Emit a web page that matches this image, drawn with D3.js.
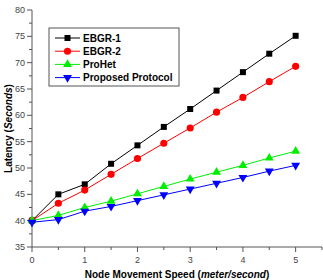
<!DOCTYPE html>
<html>
<head>
<meta charset="utf-8">
<script src="https://cdn.jsdelivr.net/npm/d3@7"></script>
<style>
  body { margin: 0; background: #fff; }
  text { font-family: "Liberation Sans", Arial, sans-serif; }
</style>
</head>
<body>
<div id="chart"></div>
<script>
const speeds = [0, 0.5, 1, 1.5, 2, 2.5, 3, 3.5, 4, 4.5, 5];
const ebgr1 = [40, 45, 46.9, 50.8, 54.3, 57.8, 61.2, 64.7, 68.2, 71.7, 75.1];
const ebgr2 = [40, 43.3, 45.8, 48.8, 51.8, 54.7, 57.6, 60.6, 63.4, 66.4, 69.3];
const prohet = [40, 41.0, 42.5, 43.7, 45.1, 46.5, 47.9, 49.2, 50.5, 51.9, 53.2];
const proposed = [39.7, 40.2, 41.8, 42.7, 43.8, 44.9, 46.0, 47.1, 48.2, 49.4, 50.5];
const seriesNames = ['EBGR-1', 'EBGR-2', 'ProHet', 'Proposed Protocol'];
const xTicks = [0, 1, 2, 3, 4, 5];
const yTicks = [35, 40, 45, 50, 55, 60, 65, 70, 75, 80];

const series = [
  { name: seriesNames[0], values: ebgr1, color: '#000000', shape: 'square' },
  { name: seriesNames[1], values: ebgr2, color: '#ff0000', shape: 'circle' },
  { name: seriesNames[2], values: prohet, color: '#00ee00', shape: 'up' },
  { name: seriesNames[3], values: proposed, color: '#0000ff', shape: 'down' }
];

const W = 323, H = 280;
const margin = { top: 10, right: 1, bottom: 33, left: 32 };
const width = W - margin.left - margin.right;
const height = H - margin.top - margin.bottom;

const svg = d3.select('#chart').append('svg')
  .attr('width', W).attr('height', H);
const g = svg.append('g')
  .attr('transform', 'translate(' + margin.left + ',' + margin.top + ')');

const x = d3.scaleLinear().domain([0, 5.5]).range([0, width]);
const y = d3.scaleLinear().domain([35, 80]).range([height, 0]);

const axisColor = '#555';

// x axis
const gx = g.append('g').attr('transform', 'translate(0,' + height + ')');
gx.append('line').attr('x1', 0).attr('x2', width)
  .attr('stroke', axisColor).attr('stroke-width', 1);
gx.selectAll('.minor').data(d3.range(0, 5.51, 0.5)).enter().append('line')
  .attr('x1', d => x(d)).attr('x2', d => x(d))
  .attr('y1', 0).attr('y2', d => Number.isInteger(d) ? 5 : 3)
  .attr('stroke', axisColor);
gx.selectAll('.lbl').data(xTicks).enter().append('text')
  .attr('x', d => x(d)).attr('y', 15.5)
  .attr('text-anchor', 'middle').attr('font-size', 9).attr('fill', '#444')
  .text(d => d);

// y axis
const gy = g.append('g');
gy.append('line').attr('y1', 0).attr('y2', height)
  .attr('stroke', axisColor).attr('stroke-width', 1);
gy.selectAll('.minor').data(d3.range(35, 80.1, 2.5)).enter().append('line')
  .attr('y1', d => y(d)).attr('y2', d => y(d))
  .attr('x1', 0).attr('x2', d => d % 5 === 0 ? -5 : -3)
  .attr('stroke', axisColor);
gy.selectAll('.lbl').data(yTicks).enter().append('text')
  .attr('x', -7).attr('y', d => y(d)).attr('dy', '0.35em')
  .attr('text-anchor', 'end').attr('font-size', 9).attr('fill', '#444')
  .text(d => d);

// axis titles
const xt = svg.append('text')
  .attr('x', margin.left + x(2.75)).attr('y', 277.5)
  .attr('text-anchor', 'middle').attr('font-size', 10).attr('font-weight', 'bold');
xt.append('tspan').text('Node Movement Speed (');
xt.append('tspan').attr('font-style', 'italic').text('meter/second');
xt.append('tspan').text(')');

const yt = svg.append('text')
  .attr('transform', 'translate(12,' + (margin.top + height / 2) + ') rotate(-90)')
  .attr('text-anchor', 'middle').attr('font-size', 10).attr('font-weight', 'bold');
yt.append('tspan').text('Latency (');
yt.append('tspan').attr('font-style', 'italic').text('Seconds');
yt.append('tspan').text(')');

function symbolFor(shape) {
  if (shape === 'square') return d3.symbol(d3.symbolSquare, 36)();
  if (shape === 'circle') return d3.symbol(d3.symbolCircle, 40)();
  return d3.symbol(d3.symbolTriangle, 34)();
}

const line = d3.line().x(d => x(d[0])).y(d => y(d[1]));

series.forEach(s => {
  const pts = speeds.map((v, i) => [v, s.values[i]]);
  g.append('path').datum(pts)
    .attr('fill', 'none').attr('stroke', s.color).attr('stroke-width', 1)
    .attr('d', line);
  g.selectAll(null).data(pts).enter().append('path')
    .attr('d', symbolFor(s.shape))
    .attr('transform', d => 'translate(' + x(d[0]) + ',' + y(d[1]) + ')' +
      (s.shape === 'down' ? ' rotate(180)' : ''))
    .attr('fill', s.color);
});

// legend
const lg = svg.append('g').attr('transform', 'translate(49,28)');
lg.append('rect').attr('width', 130).attr('height', 58)
  .attr('fill', '#fff').attr('stroke', '#555').attr('stroke-width', 1);
series.forEach((s, i) => {
  const row = lg.append('g').attr('transform', 'translate(0,' + (10 + i * 13.2) + ')');
  row.append('line').attr('x1', 6).attr('x2', 31)
    .attr('stroke', s.color).attr('stroke-width', 1);
  row.append('path').attr('d', symbolFor(s.shape))
    .attr('transform', 'translate(18.5,0)' + (s.shape === 'down' ? ' rotate(180)' : ''))
    .attr('fill', s.color);
  row.append('text').attr('x', 34).attr('dy', '0.35em')
    .attr('font-size', 10).attr('font-weight', 'bold').text(s.name);
});
</script>
</body>
</html>
